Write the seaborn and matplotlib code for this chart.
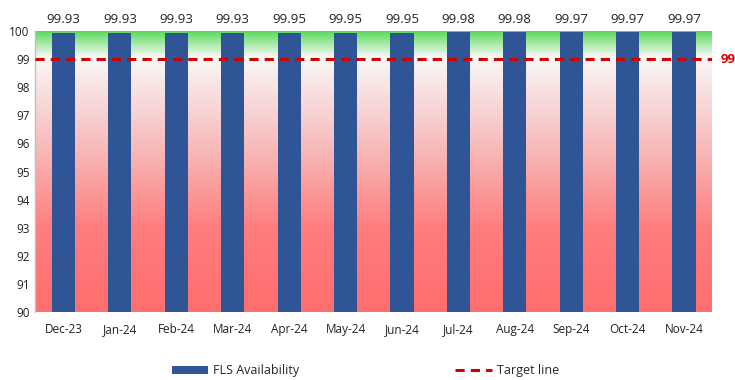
import numpy as np
import pandas as pd
import matplotlib
matplotlib.use("Agg")
import matplotlib.pyplot as plt
from matplotlib.colors import LinearSegmentedColormap
from matplotlib.lines import Line2D
from matplotlib.patches import Patch
import seaborn as sns

months = ["Dec-23", "Jan-24", "Feb-24", "Mar-24", "Apr-24", "May-24",
          "Jun-24", "Jul-24", "Aug-24", "Sep-24", "Oct-24", "Nov-24"]
availability = [99.93, 99.93, 99.93, 99.93, 99.95, 99.95,
                99.95, 99.98, 99.98, 99.97, 99.97, 99.97]
target = 99
y_ticks = [90, 91, 92, 93, 94, 95, 96, 97, 98, 99, 100]

df = pd.DataFrame({"Month": months, "FLS Availability": availability})

sns.set_theme(style="white")
plt.rcParams["font.family"] = ["Open Sans", "DejaVu Sans"]

fig = plt.figure(figsize=(7.35, 3.8), dpi=100)
ax = fig.add_axes([0.048, 0.179, 0.921, 0.739])

# background gradient: red at the bottom, white near target, green at top
ymin, ymax = 90, 100
stops = [(90, "#FF6E6E"), (93, "#FF7E7E"), (96, "#F7BDBD"),
         (98.5, "#F9ECEC"), (99.1, "#F8F8F8"), (99.5, "#B5EDB5"),
         (100, "#5DD85D")]
cmap = LinearSegmentedColormap.from_list(
    "bg", [((v - ymin) / (ymax - ymin), c) for v, c in stops])
grad = np.linspace(0, 1, 500).reshape(-1, 1)
ax.imshow(grad, aspect="auto", cmap=cmap, origin="lower",
          extent=(-0.5, len(months) - 0.5, ymin, ymax), zorder=0)

sns.barplot(data=df, x="Month", y="FLS Availability", color="#2F5597",
            saturation=1, width=0.41, linewidth=0, ax=ax, zorder=2)
ax.axhline(target, color="#D00000", linestyle=(0, (3, 2)), linewidth=2.2, zorder=3)

ax.set_xlim(-0.5, len(months) - 0.5)
ax.set_ylim(ymin, ymax)
ax.set_yticks(y_ticks)
ax.tick_params(axis="both", labelsize=8.5, colors="#222222", length=0, pad=4)
ax.tick_params(axis="x", pad=8)
ax.set_xlabel("")
ax.set_ylabel("")
for s in ["top", "right", "bottom"]:
    ax.spines[s].set_visible(False)
ax.spines["left"].set_color("#BFBFBF")
ax.spines["left"].set_linewidth(1)

for i, v in enumerate(availability):
    ax.annotate(f"{v:.2f}", xy=(i, ymax), xytext=(0, 4), textcoords="offset points",
                ha="center", va="bottom", fontsize=9.5, color="#222222",
                annotation_clip=False)

ax.annotate(f"{target}", xy=(len(months) - 0.5, target), xytext=(6, 0),
            textcoords="offset points", ha="left", va="center",
            fontsize=9.5, fontweight="bold", color="#E00000", annotation_clip=False)

handles = [Patch(facecolor="#2F5597", edgecolor="none", label="FLS Availability"),
           Line2D([0], [0], color="#D00000", linestyle=(0, (3, 2)), linewidth=2.2,
                  label="Target line")]
fig.legend(handles=handles, loc="center", bbox_to_anchor=(0.497, 0.025), ncol=2,
           frameon=False, fontsize=9, columnspacing=12.5, handlelength=2.9,
           handletextpad=0.4, handleheight=0.6)

fig.savefig("out.png", dpi=100)
